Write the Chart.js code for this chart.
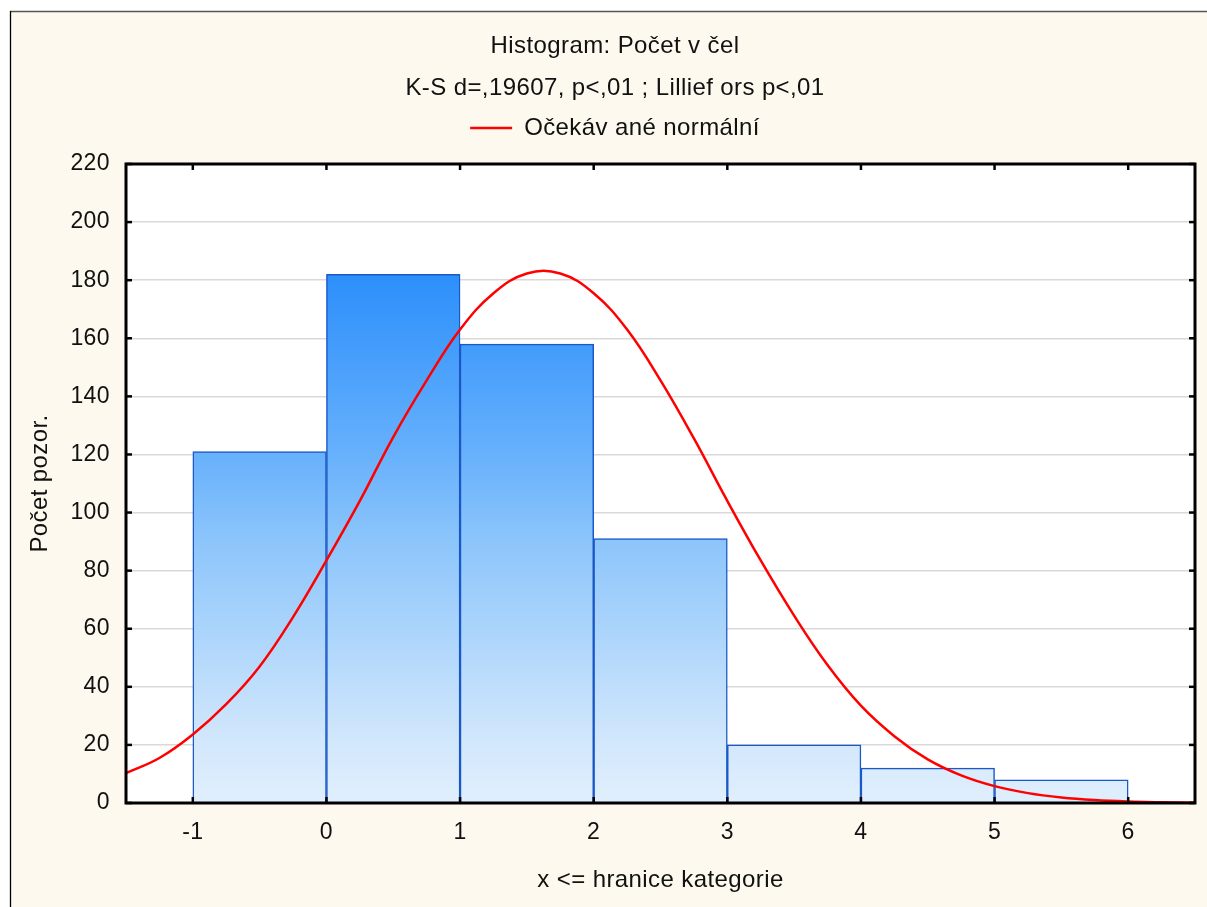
<!DOCTYPE html>
<html>
<head>
<meta charset="utf-8">
<title>Histogram: Počet včel</title>
<script src="https://cdn.jsdelivr.net/npm/chart.js@4.4.1/dist/chart.umd.min.js"></script>
<style>
  html, body { margin: 0; padding: 0; background: #fff; }
  #wrap { width: 1207px; height: 907px; position: relative; }
</style>
</head>
<body>
<div id="wrap"><canvas id="hist"></canvas></div>
<script>
// ===== Data =====
// upper bin boundaries (x <= hranice kategorie)
const binEdges = [-1, 0, 1, 2, 3, 4, 5, 6];
const binCounts = [121, 182, 158, 91, 20, 12, 8];

// expected normal curve
const curveX = [-1.5, -1.25, -1, -0.75, -0.5, -0.25, 0, 0.25, 0.5, 0.75, 1, 1.25, 1.5, 1.75, 2, 2.25, 2.5,
  2.75, 3, 3.25, 3.5, 3.75, 4, 4.25, 4.5, 4.75, 5, 5.25, 5.5, 5.75, 6, 6.25, 6.5];
const curveY = [10.3, 15.5, 23.6, 34, 47, 64, 83.5, 104, 126, 145.5, 163, 175.5, 182.3, 182.3, 175.5, 163, 145.5,
  125.5, 104, 83.5, 64.5, 47.5, 33.5, 23, 15, 9.5, 5.8, 3.4, 1.9, 1.0, 0.5, 0.25, 0.1];

const titleLines = ['Histogram: Počet v čel', 'K-S d=,19607, p<,01 ; Lillief ors p<,01'];
const legendLabel = 'Očekáv ané normální';
const xTitle = 'x <= hranice kategorie';
const yTitle = 'Počet pozor.';

// ===== Style =====
const FONT = "'Liberation Sans', Arial, sans-serif";
const CREAM = '#fef9ef';
const TEXT = '#111';
const TXT_SIZE = 24;
const TICK_SIZE = 23;

Chart.defaults.font.family = FONT;
Chart.defaults.font.size = TXT_SIZE;
Chart.defaults.color = TEXT;

let gradCache = null;
function barGradient(ctx, area) {
  if (gradCache && gradCache.top === area.top && gradCache.bottom === area.bottom) return gradCache.g;
  const g = ctx.createLinearGradient(0, area.top, 0, area.bottom);
  g.addColorStop(0, 'rgb(12,122,250)');
  g.addColorStop(0.17, 'rgb(43,143,251)');
  g.addColorStop(0.45, 'rgb(102,176,252)');
  g.addColorStop(0.59, 'rgb(140,197,251)');
  g.addColorStop(0.91, 'rgb(211,232,252)');
  g.addColorStop(1, 'rgb(224,239,253)');
  gradCache = { top: area.top, bottom: area.bottom, g };
  return g;
}

const barData = binCounts.map((c, i) => ({ x: (binEdges[i] + binEdges[i + 1]) / 2, y: c }));
const lineData = curveX.map((x, i) => ({ x, y: curveY[i] }));

// slightly wider text, like the original renderer
const spacingPlugin = {
  id: 'spacing',
  beforeLayout(chart) { chart.ctx.letterSpacing = '0.4px'; },
  beforeDraw(chart) { chart.ctx.letterSpacing = '0.4px'; },
};

// cream frame + white plot background
const framePlugin = {
  id: 'frame',
  beforeDraw(chart) {
    const { ctx, width, height, chartArea: a } = chart;
    ctx.save();
    ctx.fillStyle = '#fff';
    ctx.fillRect(0, 0, width, height);
    ctx.fillStyle = CREAM;
    ctx.fillRect(10, 11, width - 10, height - 11);
    ctx.lineWidth = 1.3;
    ctx.strokeStyle = '#555';
    ctx.beginPath(); ctx.moveTo(10, 11.5); ctx.lineTo(width, 11.5); ctx.stroke();
    ctx.strokeStyle = '#000';
    ctx.beginPath(); ctx.moveTo(10.5, 11); ctx.lineTo(10.5, height); ctx.stroke();
    ctx.fillStyle = '#fff';
    ctx.fillRect(a.left, a.top, a.right - a.left, a.bottom - a.top);
    ctx.restore();
  }
};

// plot box with inward ticks on all four sides
const boxPlugin = {
  id: 'box',
  afterDraw(chart) {
    const { ctx, chartArea: a, scales: { x, y } } = chart;
    const seg = (x1, y1, x2, y2) => { ctx.beginPath(); ctx.moveTo(x1, y1); ctx.lineTo(x2, y2); ctx.stroke(); };
    ctx.save();
    ctx.strokeStyle = '#000';
    ctx.lineWidth = 2.5;
    binEdges.forEach(v => {
      const px = x.getPixelForValue(v);
      seg(px, a.bottom, px, a.bottom - 6);
      seg(px, a.top, px, a.top + 6);
    });
    y.ticks.forEach(t => {
      const py = y.getPixelForValue(t.value);
      seg(a.left, py, a.left + 6, py);
      seg(a.right, py, a.right - 6, py);
    });
    ctx.lineWidth = 3;
    ctx.strokeRect(a.left, a.top, a.right - a.left, a.bottom - a.top);
    ctx.restore();
  }
};

new Chart(document.getElementById('hist'), {
  type: 'bar',
  data: {
    datasets: [
      {
        type: 'line',
        label: legendLabel,
        data: lineData,
        borderColor: '#ff0000',
        borderWidth: 2.5,
        pointRadius: 0,
        fill: false,
        tension: 0.4,
        order: 0,
      },
      {
        label: 'Počet',
        data: barData,
        backgroundColor: (c) => {
          const a = c.chart.chartArea;
          return a ? barGradient(c.chart.ctx, a) : '#8cc5fb';
        },
        borderColor: '#1a58c8',
        borderWidth: 1.5,
        barPercentage: 1,
        categoryPercentage: 1,
        order: 1,
      },
    ],
  },
  options: {
    responsive: true,
    maintainAspectRatio: false,
    animation: false,
    layout: { padding: { left: 35, right: 12, top: 0, bottom: 0 } },
    scales: {
      x: {
        type: 'linear',
        min: -1.5,
        max: 6.5,
        offset: false,
        afterBuildTicks: (axis) => { axis.ticks = binEdges.map(v => ({ value: v })); },
        afterFit: (axis) => { axis.height = 104; },
        grid: { display: false, drawTicks: false, offset: false },
        border: { display: false },
        ticks: { padding: 16, color: TEXT, font: { size: TICK_SIZE }, maxRotation: 0 },
        title: { display: true, text: xTitle, color: TEXT, font: { size: TXT_SIZE }, padding: { top: 0, bottom: 12 } },
      },
      y: {
        min: 0,
        max: 220,
        afterFit: (axis) => { axis.width = 91; },
        grid: { color: '#d9d9d9', lineWidth: 1.5, drawTicks: false },
        border: { display: false },
        ticks: { stepSize: 20, padding: 16, color: TEXT, font: { size: TICK_SIZE } },
        title: { display: true, text: yTitle, color: TEXT, font: { size: TXT_SIZE }, padding: { top: -9, bottom: 0 } },
      },
    },
    plugins: {
      title: {
        display: true,
        text: titleLines,
        color: TEXT,
        font: { size: TXT_SIZE, weight: 'normal', lineHeight: 42 / TXT_SIZE },
        padding: { top: 25, bottom: -18 },
      },
      legend: {
        display: true,
        position: 'top',
        labels: {
          color: TEXT,
          font: { size: TXT_SIZE },
          usePointStyle: true,
          pointStyle: 'line',
          pointStyleWidth: 42,
          padding: 25,
          filter: (item) => item.datasetIndex === 0,
        },
      },
      // empty box between legend and plot, keeps the plot top in place
      subtitle: {
        display: true,
        text: '',
        weight: 500,
        font: { size: 1, lineHeight: 1 },
        padding: { top: 13, bottom: 0 },
      },
      tooltip: { enabled: false },
    },
  },
  plugins: [spacingPlugin, framePlugin, boxPlugin],
});
</script>
</body>
</html>
